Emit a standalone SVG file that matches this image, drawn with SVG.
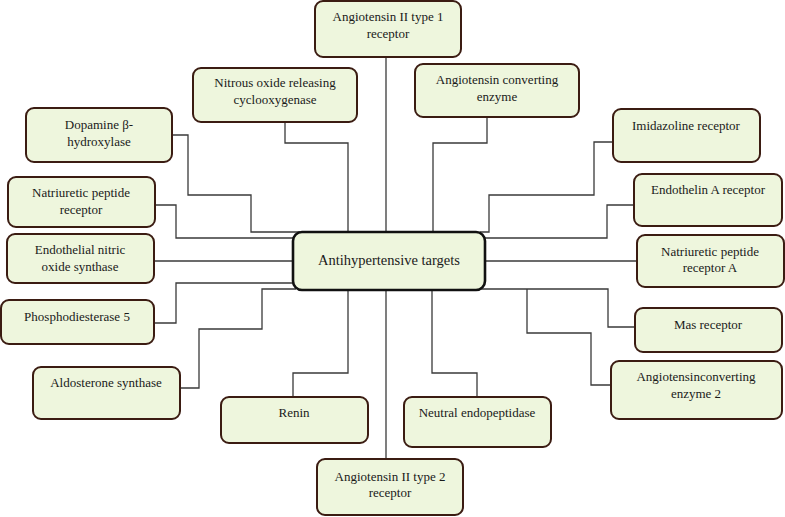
<svg xmlns="http://www.w3.org/2000/svg" width="785" height="517" viewBox="0 0 785 517" font-family="'Liberation Serif', 'DejaVu Serif', serif">
<defs>
<style>
.n rect{fill:#eef6dd;stroke:#3b1c12;stroke-width:2}
.c rect{fill:#eef6dd;stroke:#111;stroke-width:2.6}
text{font-size:13px;fill:#1a1a1a;text-anchor:middle}
.c text{font-size:14.5px}
#connectors path{fill:none;stroke:#3a3a3a;stroke-width:1.3}
</style>
</defs>
<rect width="785" height="517" fill="#ffffff"/>
<g id="connectors">
<path d="M386,57 V232"/>
<path d="M285,122 V143 H348 V232"/>
<path d="M487,117 V143 H433 V232"/>
<path d="M172,135 H188 V195 H251 V232 H300"/>
<path d="M155,205 H176 V238 H293"/>
<path d="M154,261 H293"/>
<path d="M154,323 H176 V283 H298"/>
<path d="M296,289 H262 V329 H199 V388 H180"/>
<path d="M348,290 V373 H293 V397"/>
<path d="M386,290 V459"/>
<path d="M432,290 V373 H477 V397"/>
<path d="M478,289 H608 V327 H635"/>
<path d="M527,289 V333 H591 V385 H611"/>
<path d="M485,261 H637"/>
<path d="M485,238 H607 V205 H634"/>
<path d="M480,232 H489 V195 H594 V142 H613"/>
</g>
<g id="center" class="c"><rect x="293" y="232" width="192" height="58" rx="9"/><text x="389" y="265">Antihypertensive targets</text></g>
<g id="at1r" class="n"><rect x="315" y="1" width="146" height="56" rx="8"/><text x="388" y="21">Angiotensin II type 1</text><text x="388" y="38">receptor</text></g>
<g id="norc" class="n"><rect x="193" y="68" width="164" height="54" rx="8"/><text x="275" y="87">Nitrous oxide releasing</text><text x="275" y="104">cyclooxygenase</text></g>
<g id="ace" class="n"><rect x="415" y="64" width="164" height="53" rx="8"/><text x="497" y="84">Angiotensin converting</text><text x="497" y="101">enzyme</text></g>
<g id="dbh" class="n"><rect x="26" y="108" width="146" height="54" rx="8"/><text x="99" y="129">Dopamine β-</text><text x="99" y="146">hydroxylase</text></g>
<g id="npr" class="n"><rect x="8" y="177" width="147" height="50" rx="8"/><text x="81" y="197">Natriuretic peptide</text><text x="81" y="214">receptor</text></g>
<g id="enos" class="n"><rect x="7" y="234" width="147" height="49" rx="8"/><text x="80" y="254">Endothelial nitric</text><text x="80" y="271">oxide synthase</text></g>
<g id="pde5" class="n"><rect x="1" y="300" width="153" height="44" rx="8"/><text x="77" y="321">Phosphodiesterase 5</text></g>
<g id="aldo" class="n"><rect x="33" y="367" width="147" height="52" rx="8"/><text x="106" y="387">Aldosterone synthase</text></g>
<g id="renin" class="n"><rect x="221" y="397" width="147" height="46" rx="8"/><text x="294" y="417">Renin</text></g>
<g id="at2r" class="n"><rect x="317" y="459" width="146" height="56" rx="8"/><text x="390" y="481">Angiotensin II type 2</text><text x="390" y="497">receptor</text></g>
<g id="nep" class="n"><rect x="404" y="397" width="147" height="50" rx="8"/><text x="477" y="417">Neutral endopeptidase</text></g>
<g id="ace2" class="n"><rect x="611" y="361" width="171" height="58" rx="8"/><text x="696" y="381">Angiotensinconverting</text><text x="696" y="398">enzyme 2</text></g>
<g id="mas" class="n"><rect x="635" y="308" width="147" height="44" rx="8"/><text x="708" y="329">Mas receptor</text></g>
<g id="npra" class="n"><rect x="637" y="235" width="147" height="52" rx="8"/><text x="710" y="256">Natriuretic peptide</text><text x="710" y="272">receptor A</text></g>
<g id="eta" class="n"><rect x="634" y="174" width="148" height="52" rx="8"/><text x="708" y="194">Endothelin A receptor</text></g>
<g id="imid" class="n"><rect x="613" y="109" width="147" height="53" rx="8"/><text x="686" y="130">Imidazoline receptor</text></g>
</svg>
